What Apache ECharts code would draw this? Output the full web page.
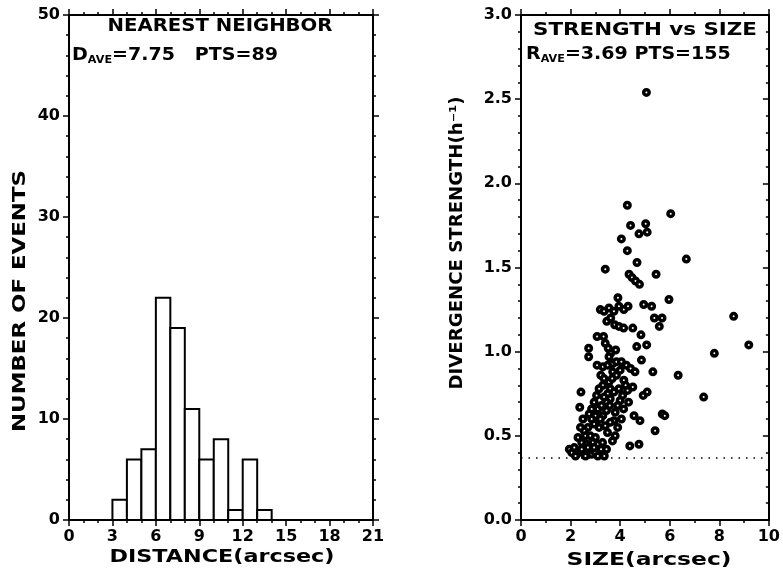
<!DOCTYPE html>
<html>
<head>
<meta charset="utf-8">
<script src="https://cdn.jsdelivr.net/npm/echarts@6/dist/echarts.min.js"></script>
<style>
  html, body { margin: 0; padding: 0; background: #fff; }
  #chart { width: 783px; height: 573px; }
</style>
</head>
<body>
<div id="chart"></div>
<script>
// histogram: nearest neighbour distance (bins of 1 arcsec)
var histBinStart = [3, 4, 5, 6, 7, 8, 9, 10, 11, 12, 13];
var histCounts = [2, 6, 7, 22, 19, 11, 6, 8, 1, 6, 1];
var binWidth = 1;

// scatter: size (arcsec) vs divergence strength (1/h)
var sizeStrength = [
    [5.06, 2.54], [4.29, 1.87], [6.04, 1.82], [4.42, 1.75], [5.03, 1.76],
    [4.76, 1.70], [5.09, 1.71], [4.05, 1.67], [4.29, 1.60], [4.68, 1.53],
    [6.67, 1.55], [3.40, 1.49], [5.45, 1.46], [4.36, 1.46], [4.48, 1.44],
    [4.62, 1.42], [4.78, 1.40], [5.97, 1.31], [3.91, 1.32], [3.20, 1.25],
    [3.35, 1.24], [3.55, 1.26], [3.75, 1.24], [3.95, 1.27], [4.15, 1.25],
    [4.32, 1.27], [4.95, 1.28], [5.27, 1.27], [3.46, 1.18], [3.62, 1.20],
    [3.78, 1.16], [3.95, 1.15], [4.14, 1.14], [4.51, 1.14], [5.38, 1.20],
    [5.69, 1.20], [5.58, 1.15], [8.58, 1.21], [9.19, 1.04], [7.80, 0.99],
    [6.34, 0.86], [7.37, 0.73], [4.84, 1.10], [5.07, 1.04], [4.67, 1.03],
    [4.86, 0.95], [5.32, 0.88], [3.07, 1.09], [3.33, 1.09], [2.73, 1.02],
    [2.73, 0.97], [3.40, 1.05], [3.52, 1.02], [3.62, 0.99], [3.82, 1.01],
    [3.55, 0.97], [3.07, 0.92], [3.30, 0.91], [3.50, 0.92], [3.70, 0.93],
    [3.85, 0.94], [4.05, 0.94], [4.25, 0.92], [4.42, 0.90], [4.60, 0.88],
    [2.42, 0.76], [2.37, 0.67], [4.51, 0.79], [4.93, 0.74], [5.09, 0.76],
    [4.34, 0.70], [4.14, 0.66], [4.56, 0.62], [4.80, 0.59], [5.70, 0.63],
    [5.80, 0.62], [5.41, 0.53], [4.39, 0.44], [4.76, 0.45], [3.22, 0.86],
    [3.35, 0.84], [3.55, 0.82], [3.60, 0.78], [3.50, 0.75], [3.60, 0.72],
    [3.45, 0.70], [3.58, 0.68], [3.45, 0.65], [3.35, 0.73], [4.15, 0.83],
    [4.22, 0.80], [4.30, 0.77], [4.10, 0.74], [4.00, 0.71], [3.90, 0.68],
    [3.80, 0.64], [3.75, 0.59], [3.30, 0.62], [3.20, 0.60], [3.10, 0.66],
    [3.00, 0.62], [2.95, 0.57], [2.85, 0.60], [3.15, 0.55], [3.40, 0.56],
    [3.49, 0.52], [2.70, 0.55], [2.55, 0.53], [2.40, 0.55], [2.60, 0.50],
    [2.80, 0.50], [3.00, 0.49], [2.30, 0.49], [2.45, 0.46], [2.65, 0.45],
    [2.90, 0.46], [3.10, 0.45], [3.29, 0.46], [3.69, 0.47], [3.23, 0.42],
    [3.36, 0.38], [1.95, 0.42], [2.05, 0.40], [2.15, 0.43], [2.25, 0.39],
    [2.35, 0.41], [2.50, 0.40], [2.60, 0.38], [2.75, 0.41], [2.85, 0.39],
    [3.00, 0.40], [3.10, 0.38], [2.20, 0.38], [2.95, 0.43], [3.30, 0.80],
    [3.15, 0.78], [3.70, 0.88], [3.85, 0.86], [4.00, 0.89], [3.95, 0.78],
    [3.75, 0.76], [3.68, 0.84], [2.95, 0.70], [2.85, 0.66], [3.05, 0.74],
    [3.25, 0.68], [2.50, 0.60], [2.75, 0.63], [3.60, 0.58], [3.90, 0.55],
    [4.05, 0.60], [3.80, 0.50], [2.45, 0.42], [2.70, 0.43], [3.45, 0.42]
];
var strengthCutoff = 0.37;

var FONT = 'DejaVu Sans';
var myChart = echarts.init(document.getElementById('chart'));

// stretch text horizontally so it spans the same width as the plotter lettering
var measureCtx = document.createElement('canvas').getContext('2d');
function stretch(str, size, width) {
    measureCtx.font = 'bold ' + size + 'px "' + FONT + '"';
    return width / measureCtx.measureText(str).width;
}

function frameAxis(gridIndex, pos, min, max, interval, minorSplit, showLabel, inside) {
    return {
        type: 'value',
        gridIndex: gridIndex,
        position: pos,
        min: min,
        max: max,
        interval: interval,
        axisLine: { show: true, onZero: false, lineStyle: { color: '#000', width: 2 } },
        axisTick: { show: true, inside: !!inside, length: 6, lineStyle: { color: '#000', width: 1.5 } },
        minorTick: { show: true, splitNumber: minorSplit, length: 3, lineStyle: { color: '#000', width: 1.5 } },
        splitLine: { show: false },
        axisLabel: {
            show: showLabel,
            color: '#000',
            fontFamily: FONT,
            fontWeight: 'bold',
            fontSize: 16,
            margin: 9,
            formatter: function (v) { return interval < 1 ? v.toFixed(1) : String(v); }
        }
    };
}

function labelText(x, y, str, size, width, rot) {
    return {
        type: 'text',
        x: x, y: y,
        rotation: rot || 0,
        scaleX: stretch(str, size, width),
        style: {
            text: str,
            fill: '#000',
            font: 'bold ' + size + 'px "' + FONT + '"',
            align: 'center',
            verticalAlign: 'middle'
        }
    };
}

function subText(x, y, letter, rest, scale) {
    return {
        type: 'text',
        x: x, y: y,
        scaleX: scale,
        style: {
            text: '{m|' + letter + '}{s|AVE}{m|' + rest + '}',
            fill: '#000',
            align: 'left',
            verticalAlign: 'middle',
            rich: {
                m: { fontFamily: FONT, fontWeight: 'bold', fontSize: 17, fill: '#000' },
                s: { fontFamily: FONT, fontWeight: 'bold', fontSize: 10, fill: '#000', padding: [8, 0, 0, 0] }
            }
        }
    };
}

var option = {
    animation: false,
    backgroundColor: '#fff',
    grid: [
        { left: 69, top: 15, width: 304, height: 505 },
        { left: 521, top: 15, width: 256, height: 505 }
    ],
    xAxis: [
        frameAxis(0, 'bottom', 0, 21, 3, 3, true),
        frameAxis(0, 'top', 0, 21, 3, 3, false),
        frameAxis(1, 'bottom', 0, 10, 2, 2, true),
        frameAxis(1, 'top', 0, 10, 2, 2, false)
    ],
    yAxis: [
        frameAxis(0, 'left', 0, 50, 10, 5, true),
        frameAxis(0, 'right', 0, 50, 10, 5, false),
        frameAxis(1, 'left', 0, 3, 0.5, 5, true),
        frameAxis(1, 'right', 0, 3, 0.5, 5, false, true)
    ],
    graphic: [
        labelText(220, 27, 'NEAREST NEIGHBOR', 17, 225),
        subText(72, 56, 'D', '=7.75   PTS=89', 1.12),
        labelText(645, 31, 'STRENGTH vs SIZE', 17, 224),
        subText(526, 55, 'R', '=3.69 PTS=155', 1.12),
        labelText(222, 558, 'DISTANCE(arcsec)', 17, 225),
        labelText(649, 561, 'SIZE(arcsec)', 17, 165),
        labelText(20, 301, 'NUMBER OF EVENTS', 18, 262, Math.PI / 2),
        labelText(458, 243, 'DIVERGENCE STRENGTH(h⁻¹)', 17, 293, Math.PI / 2)
    ],
    series: [
        {
            name: 'histogram',
            type: 'custom',
            xAxisIndex: 0,
            yAxisIndex: 0,
            encode: { x: [0, 1], y: 2 },
            data: histBinStart.map(function (s, i) { return [s, s + binWidth, histCounts[i]]; }),
            renderItem: function (params, api) {
                var topLeft = api.coord([api.value(0), api.value(2)]);
                var bottomRight = api.coord([api.value(1), 0]);
                return {
                    type: 'rect',
                    shape: {
                        x: topLeft[0],
                        y: topLeft[1],
                        width: bottomRight[0] - topLeft[0],
                        height: bottomRight[1] - topLeft[1]
                    },
                    style: { fill: '#fff', stroke: '#000', lineWidth: 2 }
                };
            }
        },
        {
            name: 'strength vs size',
            type: 'scatter',
            xAxisIndex: 2,
            yAxisIndex: 2,
            symbol: 'circle',
            symbolSize: 5.5,
            itemStyle: { color: '#fff', borderColor: '#000', borderWidth: 3.5, opacity: 1 },
            data: sizeStrength,
            markLine: {
                silent: true,
                symbol: 'none',
                label: { show: false },
                lineStyle: { color: '#000', width: 1.5, type: [1.5, 6] },
                data: [{ yAxis: strengthCutoff }]
            }
        }
    ]
};
myChart.setOption(option);
</script>
</body>
</html>
